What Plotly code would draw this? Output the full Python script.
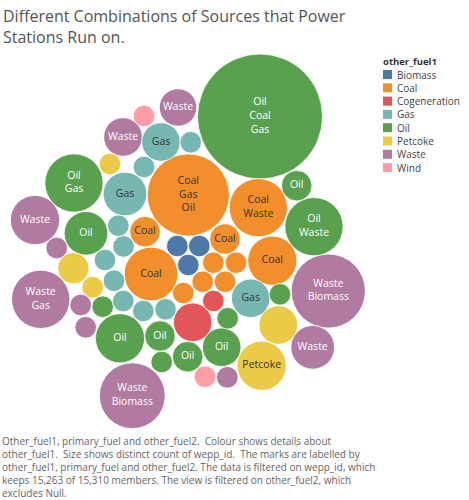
import plotly.graph_objects as go

# ---- data ----
labels = ["Oil<br>Coal<br>Gas", "Coal<br>Gas<br>Oil", "Waste<br>Biomass", "Waste<br>Biomass",
          "Oil<br>Gas", "Coal<br>Waste", "Oil<br>Waste", "Waste<br>Gas",
          "Coal", "Waste", "Coal", "Oil", "Petcoke", "Gas", "Oil", "Waste",
          "Waste", "Waste", "Gas", "Gas", "", "", "Oil",
          "Oil", "Coal", "Coal", "", "Oil", "Oil"] + [""] * 30
fuel1 = ["Oil", "Coal", "Waste", "Waste",
         "Oil", "Coal", "Oil", "Waste",
         "Coal", "Waste", "Coal", "Oil", "Petcoke", "Gas", "Oil", "Waste",
         "Waste", "Waste", "Gas", "Gas", "Cogeneration", "Petcoke", "Oil",
         "Oil", "Coal", "Coal", "Petcoke", "Oil", "Oil",
         "Wind", "Gas", "Petcoke", "Gas", "Gas", "Waste", "Gas",
         "Biomass", "Biomass", "Biomass", "Gas", "Petcoke", "Gas", "Waste",
         "Oil", "Gas", "Gas", "Gas", "Waste", "Oil",
         "Coal", "Coal", "Coal", "Coal", "Coal", "Oil", "Cogeneration",
         "Oil", "Wind", "Waste"]
wepp_count = [336, 145, 118, 93,
              73, 73, 73, 73,
              62, 52, 52, 52, 52, 41, 41, 41,
              30, 32, 32, 32, 32, 32, 32,
              20, 20, 20, 21, 20, 20] + [10] * 30

categories = ["Biomass", "Coal", "Cogeneration", "Gas", "Oil", "Petcoke", "Waste", "Wind"]
cat_colors = ["#4e79a7", "#f28e2b", "#e15759", "#76b7b2", "#59a14f", "#edc948", "#b07aa1", "#ff9da7"]
label_colors = {"Coal": "#333333", "Gas": "#333333", "Petcoke": "#333333",
                "Oil": "#ffffff", "Waste": "#ffffff", "Biomass": "#ffffff",
                "Cogeneration": "#ffffff", "Wind": "#333333"}

# ---- packed-bubble layout (pixel positions of the packing) ----
pack_x = [260, 188.3, 328.3, 132.3, 74, 258.3, 314, 40.7,
          151, 35, 272.3, 120, 261.7, 125, 86, 312.7,
          178, 123, 161, 250.7, 192.7, 278.3, 221.7,
          296.7, 225, 145, 73.3, 160, 187.7,
          144, 190.7, 110, 144, 118.3, 56.7, 123.5,
          177.3, 199.3, 188.3, 105, 92.7, 114, 80.7,
          102.7, 123.3, 143.3, 165.5, 85.7, 161.7,
          213.3, 236, 202.7, 225, 183.3, 280, 213.3,
          227.7, 205, 227.3]
pack_y = [116.5, 195, 291, 395.7, 183, 207.7, 226.7, 299.3,
          274, 220, 260.7, 338.3, 365.7, 194, 233.3, 347.3,
          107.5, 137, 142, 298.3, 322.3, 325, 347.3,
          185.7, 239, 231.7, 268.3, 336, 356.7,
          116, 142.3, 164, 167, 225.7, 248, 246.5,
          246, 246, 265, 260, 287.3, 280.7, 305,
          306.7, 301, 311, 309.3, 327.3, 362,
          262.7, 262.7, 281.7, 281.7, 293, 294.3, 301,
          318.3, 376.7, 377.3]

W, H = 469, 500
color_map = dict(zip(categories, cat_colors))
max_diam = 125

fig = go.Figure()
fig.add_trace(go.Scatter(
    x=pack_x, y=pack_y, mode="markers+text",
    text=labels, textposition="middle center",
    textfont=dict(family="Open Sans", size=10.5, color=[label_colors[f] for f in fuel1]),
    marker=dict(size=wepp_count, sizemode="area", sizeref=2 * max(wepp_count) / max_diam ** 2,
                color=[color_map[f] for f in fuel1], opacity=1,
                line=dict(color="white", width=0.8)),
    customdata=fuel1,
    hovertemplate="%{customdata}<br>count: %{marker.size}<extra></extra>",
    showlegend=False,
))

# legend (Tableau style)
shapes = []
annotations = [dict(x=381, y=61.5, xref="x", yref="y", text="<b>other_fuel1</b>", showarrow=False,
                    xanchor="left", yanchor="middle",
                    font=dict(family="Open Sans", size=9.5, color="#333333"))]
for i, (c, col) in enumerate(zip(categories, cat_colors)):
    yc = 74.5 + i * 13.3
    shapes.append(dict(type="rect", xref="x", yref="y", x0=383, x1=392, y0=yc - 4.5, y1=yc + 4.5,
                       fillcolor=col, line=dict(width=0)))
    annotations.append(dict(x=395, y=yc, xref="x", yref="y", text=c, showarrow=False,
                            xanchor="left", yanchor="middle",
                            font=dict(family="Open Sans", size=10, color="#444444")))

# title
annotations.append(dict(x=1, y=3, xref="x", yref="y", xanchor="left", yanchor="top", align="left",
                        text="Different Combinations of Sources that Power<br>Stations Run on.",
                        showarrow=False, font=dict(family="Open Sans", size=16, color="#555555")))
# caption
caption = ("Other_fuel1, primary_fuel and other_fuel2.  Colour shows details about<br>"
           "other_fuel1.  Size shows distinct count of wepp_id.  The marks are labelled by<br>"
           "other_fuel1, primary_fuel and other_fuel2. The data is filtered on wepp_id, which<br>"
           "keeps 15,263 of 15,310 members. The view is filtered on other_fuel2, which<br>"
           "excludes Null.")
annotations.append(dict(x=0, y=432, xref="x", yref="y", xanchor="left", yanchor="top", align="left",
                        text=caption, showarrow=False,
                        font=dict(family="Open Sans", size=10, color="#666666")))

fig.update_layout(
    width=W, height=H, margin=dict(l=0, r=0, t=0, b=0),
    paper_bgcolor="white", plot_bgcolor="white",
    xaxis=dict(range=[0, W], visible=False, fixedrange=True),
    yaxis=dict(range=[H, 0], visible=False, fixedrange=True),
    shapes=shapes, annotations=annotations,
)
fig.write_html("out.html", config={"displayModeBar": False},
               post_script="document.body.style.margin='0';document.body.style.overflow='hidden';")
